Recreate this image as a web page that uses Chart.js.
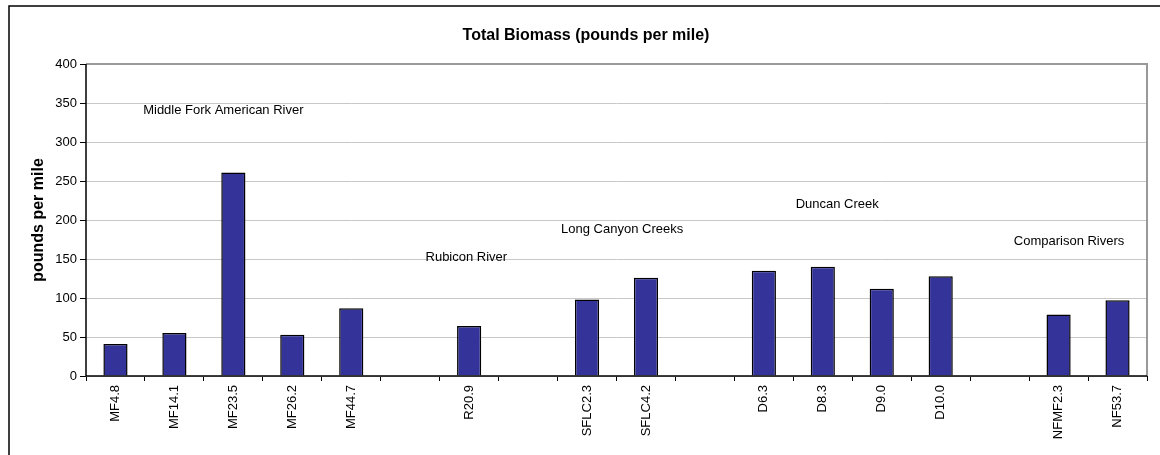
<!DOCTYPE html>
<html>
<head>
<meta charset="utf-8">
<script src="https://cdn.jsdelivr.net/npm/chart.js@4/dist/chart.umd.min.js"></script>
<style>
  html, body { margin: 0; padding: 0; background: #fff; }
  #wrap { width: 1160px; height: 455px; position: relative; }
</style>
</head>
<body>
<div id="wrap"><canvas id="myChart" width="1160" height="455"></canvas></div>
<script>
// sites along the x axis, blanks are the gaps between river groups
var sites = ['MF4.8', 'MF14.1', 'MF23.5', 'MF26.2', 'MF44.7', '', 'R20.9', '', 'SFLC2.3', 'SFLC4.2', '', 'D6.3', 'D8.3', 'D9.0', 'D10.0', '', 'NFMF2.3', 'NF53.7'];
var biomass = [41, 55, 261, 53, 87, null, 64, null, 98, 126, null, 135, 140, 112, 128, null, 79, 97];
var yTicks = [0, 50, 100, 150, 200, 250, 300, 350, 400];

// group labels: text, x (category index), y (value)
var groupNames = ['Middle Fork American River', 'Rubicon River', 'Long Canyon Creeks', 'Duncan Creek', 'Comparison Rivers'];
var groupX = [0.47, 5.26, 7.56, 11.54, 15.24];
var groupY = [340, 152, 188, 220, 173];

var chartTitle = 'Total Biomass (pounds per mile)';
var yTitle = 'pounds per mile';

var fonte = 'Arial, "Liberation Sans", sans-serif';

// moldura, titulo e textos dos grupos
var extras = {
    id: 'extras',
    beforeDraw: function(chart) {
        var ctx = chart.ctx;
        ctx.save();
        ctx.fillStyle = '#fff';
        ctx.fillRect(0, 0, chart.width, chart.height);
        ctx.strokeStyle = '#000';
        ctx.lineWidth = 1.5;
        ctx.strokeRect(9, 6, 1300, 600);
        ctx.restore();
    },
    afterDraw: function(chart) {
        var ctx = chart.ctx;
        var a = chart.chartArea;
        var x = chart.scales.x, y = chart.scales.y;
        ctx.save();
        // borda cinza do plot (topo e direita)
        ctx.strokeStyle = '#999';
        ctx.lineWidth = 2;
        ctx.beginPath();
        ctx.moveTo(a.left, a.top);
        ctx.lineTo(a.right, a.top);
        ctx.lineTo(a.right, a.bottom);
        ctx.stroke();
        // eixos pretos
        ctx.strokeStyle = '#000';
        ctx.lineWidth = 1.5;
        ctx.beginPath();
        ctx.moveTo(a.left, a.top);
        ctx.lineTo(a.left, a.bottom);
        ctx.lineTo(a.right, a.bottom);
        ctx.stroke();

        ctx.fillStyle = '#000';
        ctx.font = 'bold 16px ' + fonte;
        ctx.textAlign = 'center';
        ctx.textBaseline = 'middle';
        ctx.fillText(chartTitle, 586, 36);

        ctx.save();
        ctx.translate(39, (a.top + a.bottom) / 2);
        ctx.rotate(-Math.PI / 2);
        ctx.fillText(yTitle, 0, 0);
        ctx.restore();

        ctx.font = '13px ' + fonte;
        ctx.textAlign = 'left';
        for (var i = 0; i < groupNames.length; i++) {
            ctx.fillText(groupNames[i], x.getPixelForValue(groupX[i]), y.getPixelForValue(groupY[i]));
        }
        ctx.restore();
    }
};

var ctx = document.getElementById('myChart').getContext('2d');
var chart = new Chart(ctx, {
    type: 'bar',
    data: {
        labels: sites,
        datasets: [{
            data: biomass,
            backgroundColor: '#333399',
            borderColor: '#000',
            borderWidth: 1.5,
            barPercentage: 0.41,
            categoryPercentage: 1
        }]
    },
    options: {
        responsive: false,
        animation: false,
        layout: { padding: { top: 64, right: 13, left: 0, bottom: 0 } },
        plugins: {
            legend: { display: false },
            title: { display: false },
            tooltip: { enabled: false }
        },
        scales: {
            x: {
                offset: true,
                grid: { display: true, offset: true, drawOnChartArea: false, color: '#000', tickColor: '#000', tickLength: 5 },
                border: { display: false },
                ticks: {
                    color: '#000', font: { family: fonte, size: 13 },
                    minRotation: 90, maxRotation: 90, autoSkip: false, padding: 4
                },
                afterFit: function(s) { s.height = 79; }
            },
            y: {
                min: 0, max: 400,
                afterBuildTicks: function(s) { s.ticks = yTicks.map(function(v) { return { value: v }; }); },
                grid: { color: '#c8c8c8', tickColor: '#000', tickLength: 6 },
                border: { display: false },
                ticks: { color: '#000', font: { family: fonte, size: 13 }, padding: 3 },
                afterFit: function(s) { s.width = 86; }
            }
        }
    },
    plugins: [extras]
});
</script>
</body>
</html>
